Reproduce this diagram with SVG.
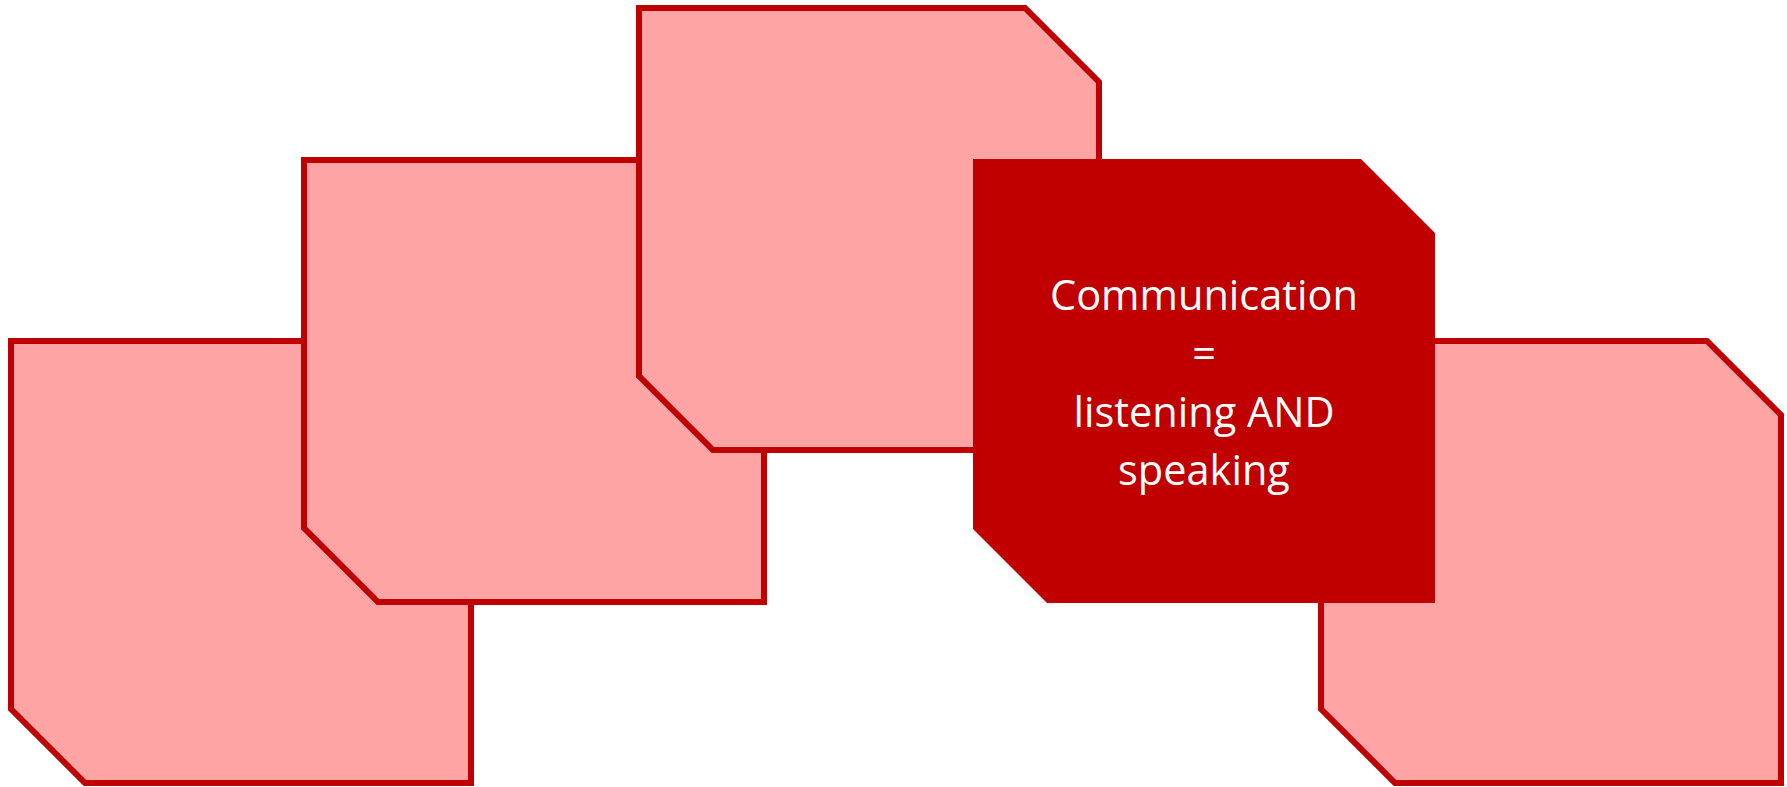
<svg xmlns="http://www.w3.org/2000/svg" width="1787" height="787" viewBox="0 0 1787 787">
  <style>
    .light { fill: #FFA4A4; stroke: #C00000; stroke-width: 6; stroke-linejoin: miter; }
    .dark { fill: #C00000; stroke: none; }
    .label { font-family: "Open Sans", "Liberation Sans", Arial, sans-serif; font-size: 41.5px; fill: #FFFFFF; text-anchor: middle; }
  </style>
  <rect x="0" y="0" width="1787" height="787" fill="#FFFFFF"/>
  <g id="node-1">
    <polygon class="light" points="11,341 397,341 471,415 471,783 85,783 11,709"/>
  </g>
  <g id="node-2">
    <polygon class="light" points="304,160 690,160 764,234 764,602 378,602 304,528"/>
  </g>
  <g id="node-3">
    <polygon class="light" points="639,8 1025,8 1099,82 1099,450 713,450 639,376"/>
  </g>
  <g id="node-5">
    <polygon class="light" points="1321,341 1707,341 1781,415 1781,783 1395,783 1321,709"/>
  </g>
  <g id="node-4">
    <polygon class="dark" points="973,159 1361,159 1435,233 1435,603 1047,603 973,529"/>
    <text class="label" x="1204" y="310">Communication</text>
    <text class="label" x="1204" y="368">=</text>
    <text class="label" x="1204" y="427">listening AND</text>
    <text class="label" x="1204" y="485">speaking</text>
  </g>
  <g id="connectors"></g>
</svg>
